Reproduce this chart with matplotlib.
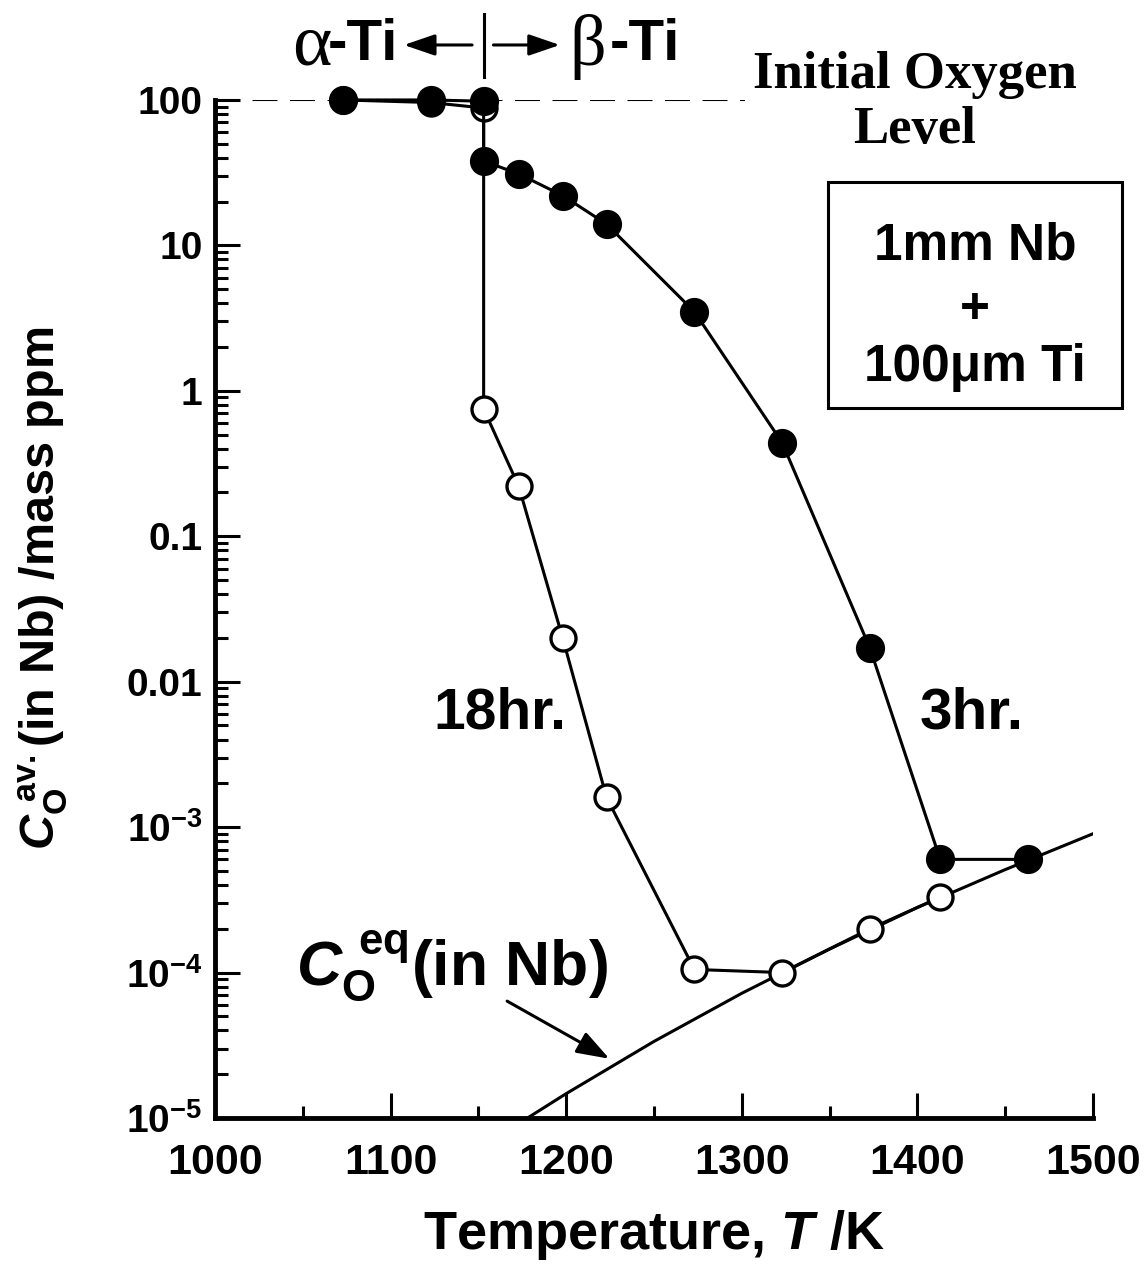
import numpy as np
import matplotlib
matplotlib.use("Agg")
import matplotlib.pyplot as plt
from matplotlib.patches import Rectangle

plt.rcParams['font.family'] = ['Liberation Sans', 'DejaVu Sans']
plt.rcParams['mathtext.fontset'] = 'custom'
plt.rcParams['mathtext.rm'] = 'Liberation Sans:bold'
plt.rcParams['mathtext.bf'] = 'Liberation Sans:bold'
plt.rcParams['mathtext.it'] = 'Liberation Sans:bold:italic'
plt.rcParams['axes.unicode_minus'] = False

# average oxygen in Nb after 3 hr anneal (filled)
T_3hr = [1073, 1123, 1153, 1153, 1173, 1198, 1223, 1273, 1323, 1373, 1413, 1463]
C_3hr = [100, 100, 98, 38, 31, 22, 14, 3.5, 0.44, 0.017, 6.0e-4, 6.0e-4]

# after 18 hr anneal (open)
T_18hr = [1073, 1123, 1153, 1153, 1173, 1198, 1223, 1273, 1323, 1373, 1413]
C_18hr = [100, 96, 88, 0.75, 0.22, 0.020, 1.6e-3, 1.05e-4, 1.0e-4, 2.0e-4, 3.3e-4]

# equilibrium oxygen level in Nb
T_eq = [1178, 1200, 1250, 1300, 1350, 1400, 1450, 1500]
C_eq = [1.0e-5, 1.47e-5, 3.36e-5, 7.2e-5, 1.45e-4, 2.8e-4, 5.1e-4, 9.0e-4]

C_initial = 100
T_alpha_beta = 1153

yticks = [1e2, 1e1, 1, 0.1, 0.01, 1e-3, 1e-4, 1e-5]
ytick_labels = ['100', '10', '1', '0.1', '0.01', r'$10^{-3}$', r'$10^{-4}$', r'$10^{-5}$']
xticks = [1000, 1100, 1200, 1300, 1400, 1500]

fig = plt.figure(figsize=(11.46, 12.70), dpi=100)
ax = fig.add_axes([0.1876, 0.1197, 0.7661, 0.8016])

ax.plot(T_eq, C_eq, color='black', lw=2.2)
ax.plot([1000, 1302], [C_initial, C_initial], color='black', lw=1.5, dashes=(12, 6))
ax.plot(T_18hr, C_18hr, color='black', lw=2.2, marker='o', ms=18, mfc='white',
        mec='black', mew=2.4, clip_on=False, zorder=3)
ax.plot(T_3hr, C_3hr, color='black', lw=2.2, marker='o', ms=20, mfc='black',
        mec='black', clip_on=False, zorder=4)

ax.set_yscale('log')
ax.set_xlim(1000, 1500)
ax.set_ylim(1e-5, 100)
ax.spines['top'].set_visible(False)
ax.spines['right'].set_visible(False)
for s in ['left', 'bottom']:
    ax.spines[s].set_linewidth(3.5)

ax.set_yticks(yticks)
ax.set_yticklabels(ytick_labels, fontsize=28, fontweight='bold')
ax.set_xticks(xticks)
ax.set_xticklabels([str(t) for t in xticks], fontsize=31, fontweight='bold')
ax.set_xticks(np.arange(1050, 1500, 100), minor=True)
ax.tick_params(axis='both', which='major', direction='in', length=18, width=2.2)
ax.tick_params(axis='both', which='minor', direction='in', length=9, width=2.2)
ax.tick_params(axis='y', which='major', pad=9)
ax.tick_params(axis='x', which='major', pad=18)
ax.yaxis.set_minor_formatter(matplotlib.ticker.NullFormatter())

ax.set_xlabel(r'Temperature, $T$ /K', fontsize=39, fontweight='bold')
ax.xaxis.set_label_coords(0.5, -0.088)
ax.set_ylabel(r'$C_{\mathrm{O}}^{\ \mathrm{av.}}$(in Nb) /mass ppm', fontsize=35,
              fontweight='bold')
ax.yaxis.set_label_coords(-0.165, 0.52)

# alpha / beta Ti boundary
tr = ax.get_xaxis_transform()
ax.plot([T_alpha_beta, T_alpha_beta], [1.023, 1.084], transform=tr, color='black',
        lw=2.2, clip_on=False)
arrow = dict(arrowstyle='-|>,head_length=1.9,head_width=0.65', color='black', lw=2.2)
ax.annotate('', xy=(1106, 1.054), xytext=(1148, 1.054), xycoords=tr,
            textcoords=tr, arrowprops=arrow)
ax.annotate('', xy=(1198, 1.054), xytext=(1157, 1.054), xycoords=tr,
            textcoords=tr, arrowprops=arrow)
ax.text(1066, 1.052, 'α', transform=tr, ha='right', va='center', fontsize=54,
        family='Liberation Serif')
ax.text(1064, 1.054, '-Ti', transform=tr, ha='left', va='center', fontsize=42,
        fontweight='bold')
ax.text(1202, 1.052, 'β', transform=tr, ha='left', va='center', fontsize=52,
        family='Liberation Serif')
ax.text(1225, 1.054, '-Ti', transform=tr, ha='left', va='center', fontsize=42,
        fontweight='bold')

ax.text(0.797, 1.0245, 'Initial Oxygen', transform=ax.transAxes, ha='center',
        va='center', fontsize=38, fontweight='bold', family='Liberation Serif')
ax.text(0.797, 0.9705, 'Level', transform=ax.transAxes, ha='center',
        va='center', fontsize=38, fontweight='bold', family='Liberation Serif')

ax.add_patch(Rectangle((0.698, 0.6975), 0.335, 0.222, transform=ax.transAxes,
                       fill=False, lw=2.2, clip_on=False))
ax.text(0.8656, 0.8566, '1mm Nb', transform=ax.transAxes, ha='center', va='center',
        fontsize=37, fontweight='bold')
ax.text(0.8656, 0.7937, '+', transform=ax.transAxes, ha='center', va='center',
        fontsize=37, fontweight='bold')
ax.text(0.8656, 0.7367, '100μm Ti', transform=ax.transAxes, ha='center', va='center',
        fontsize=37, fontweight='bold')

ax.text(1162, 6e-3, '18hr.', ha='center', va='center', fontsize=41, fontweight='bold')
ax.text(1431, 6e-3, '3hr.', ha='center', va='center', fontsize=42, fontweight='bold')

ax.text(1135, 1.1e-4, r'$C_{\mathrm{O}}^{\ \mathrm{eq}}$(in Nb)', ha='center',
        va='center', fontsize=45, fontweight='bold')
ax.annotate('', xy=(1226, 2.5e-5), xytext=(1165, 6.5e-5),
            arrowprops=dict(arrowstyle='-|>,head_length=2.0,head_width=0.7',
                            color='black', lw=2.2))

fig.savefig('out.png', dpi=100)
